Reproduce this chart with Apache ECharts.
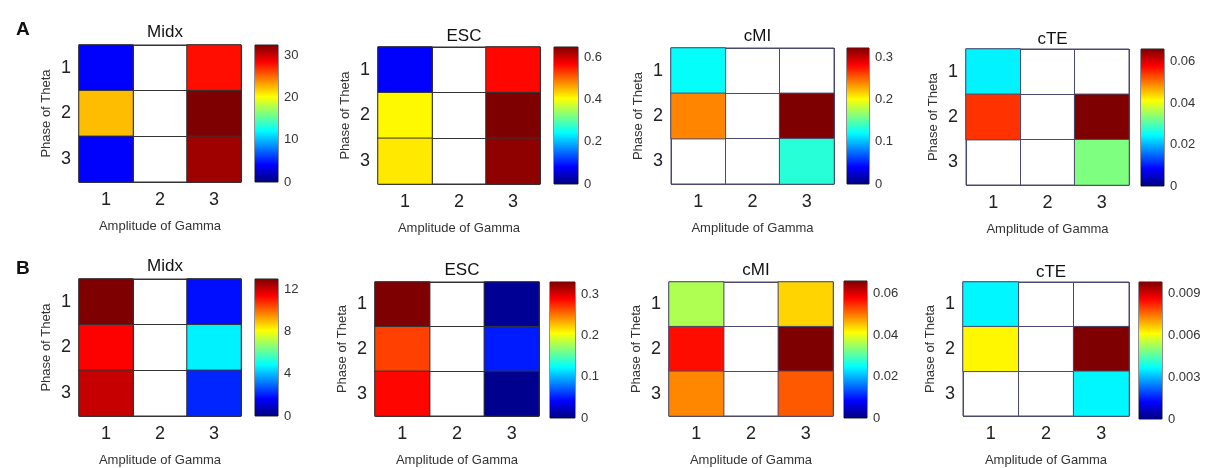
<!DOCTYPE html>
<html><head><meta charset="utf-8">
<script src="https://cdn.jsdelivr.net/npm/echarts@6/dist/echarts.min.js"></script>
<style>html,body{margin:0;padding:0;background:#fff}#c{width:1216px;height:468px}</style>
</head><body><div id="c"></div>
<script>
const ampCats = ['1','2','3'];
const phaseCats = ['1','2','3'];
const panelTitles = ['Midx','ESC','cMI','cTE','Midx','ESC','cMI','cTE'];
const rowLabels = ['A','B'];
// values[phase][amplitude]; null = empty (white) cell
const midxA = [[4.0,null,28.0],[22.4,null,32.5],[4.0,null,31.5]];
const escA  = [[0.08,null,0.565],[0.41,null,0.65],[0.42,null,0.64]];
const cmiA  = [[0.122,null,null],[0.24,null,0.322],[null,null,0.133]];
const cteA  = [[0.024,null,null],[0.0545,null,0.066],[null,null,0.033]];
const midxB = [[13.0,null,1.8],[11.4,null,4.7],[12.1,null,2.1]];
const escB  = [[0.33,null,0.007],[0.268,null,0.05],[0.287,null,0.005]];
const cmiB  = [[0.036,null,0.044],[0.057,null,0.066],[0.049,null,0.052]];
const cteB  = [[0.0036,null,null],[0.0062,null,0.0098],[null,null,0.0036]];
const colorbarMax  = [32.5,0.65,0.322,0.066,13,0.33,0.066,0.0098];
const colorbarStep = [10,0.2,0.1,0.02,4,0.1,0.02,0.003];

const panels = [midxA, escA, cmiA, cteA, midxB, escB, cmiB, cteB];

// layout (pixels): heatmap grid, colorbar grid, title top, line color
const layout = [
  {g:[79,45,162,137],  cb:[255,45,23,137],  ty:19,  line:'#333'},
  {g:[378,47,162,137], cb:[554,47,24,137],  ty:23,  line:'#333'},
  {g:[671,48,163,136], cb:[847,48,22,136],  ty:23,  line:'#4a4a6e'},
  {g:[966,49,163,136], cb:[1141,49,23,137], ty:26,  line:'#4a4a6e'},
  {g:[79,279,162,137], cb:[255,279,23,137], ty:253, line:'#333'},
  {g:[375,282,164,136],cb:[550,282,25,136], ty:257, line:'#333'},
  {g:[669,282,164,136],cb:[844,281,23,137], ty:257, line:'#4a4a6e'},
  {g:[963,282,166,137],cb:[1139,282,23,137],ty:259, line:'#4a4a6e'}
];

const jet = ['#00007F','#0000FF','#007FFF','#00FFFF','#7FFF7F','#FFFF00','#FF7F00','#FF0000','#7F0000'];
const FONT = 'Liberation Sans, Arial, sans-serif';

const grid = [], xAxis = [], yAxis = [], series = [], visualMap = [], title = [];

panels.forEach((vals, i) => {
  const L = layout[i];
  grid.push({left:L.g[0], top:L.g[1], width:L.g[2], height:L.g[3], show:true,
    borderColor:L.line, borderWidth:1, backgroundColor:'#fff', containLabel:false});
  grid.push({left:L.cb[0], top:L.cb[1], width:L.cb[2], height:L.cb[3], show:true,
    borderColor:'#222', borderWidth:1, backgroundColor:'transparent', containLabel:false});
  const gh = 2*i, gc = 2*i+1;
  xAxis.push({type:'category', gridIndex:gh, data:ampCats, position:'bottom',
    axisLine:{show:false}, axisTick:{show:false},
    splitLine:{show:true, lineStyle:{color:L.line, width:1}},
    axisLabel:{fontSize:18, color:'#222', margin:9, fontFamily:FONT},
    name:'Amplitude of Gamma', nameLocation:'middle', nameGap:38,
    nameTextStyle:{fontSize:13, color:'#333', fontFamily:FONT}});
  yAxis.push({type:'category', gridIndex:gh, data:phaseCats, inverse:true,
    axisLine:{show:false}, axisTick:{show:false},
    splitLine:{show:true, lineStyle:{color:L.line, width:1}},
    axisLabel:{fontSize:18, color:'#222', margin:8, fontFamily:FONT},
    name:'Phase of Theta', nameLocation:'middle', nameGap:26, nameRotate:90,
    nameTextStyle:{fontSize:13, color:'#333', fontFamily:FONT}});
  xAxis.push({type:'category', gridIndex:gc, data:['cb'], show:false});
  yAxis.push({type:'value', gridIndex:gc, position:'right', min:0,
    max:colorbarMax[i], interval:colorbarStep[i],
    axisLine:{show:false}, axisTick:{show:false}, splitLine:{show:false},
    axisLabel:{fontSize:13, color:'#333', margin:6, showMaxLabel:false, fontFamily:FONT}});

  const data = [];
  vals.forEach((row, r) => row.forEach((v, c) => {
    if (v !== null) data.push([c, r, v]);
  }));
  series.push({type:'heatmap', xAxisIndex:gh, yAxisIndex:gh, data:data,
    itemStyle:{borderColor:L.line, borderWidth:1}, silent:true, emphasis:{disabled:true}});

  visualMap.push({type:'continuous', show:false, seriesIndex:i, dimension:2,
    min:0, max:colorbarMax[i], inRange:{color:jet}});

  title.push({text:panelTitles[i], left:L.g[0] + L.g[2]/2, top:L.ty, textAlign:'center',
    textStyle:{fontSize:17, fontWeight:'normal', color:'#111', fontFamily:FONT}});
});

panels.forEach((vals, i) => {
  series.push({type:'bar', xAxisIndex:2*i+1, yAxisIndex:2*i+1, data:[colorbarMax[i]],
    barWidth:'100%', silent:true,
    itemStyle:{color:{type:'linear', x:0, y:1, x2:0, y2:0,
      colorStops: jet.map((c, k) => ({offset:k/(jet.length-1), color:c}))}}});
});

title.push({text:rowLabels[0], left:11, top:15, textStyle:{fontSize:19, fontWeight:'bold', color:'#111', fontFamily:FONT}});
title.push({text:rowLabels[1], left:11, top:254, textStyle:{fontSize:19, fontWeight:'bold', color:'#111', fontFamily:FONT}});

const chart = echarts.init(document.getElementById('c'), null, {renderer:'canvas'});
chart.setOption({animation:false, backgroundColor:'#fff', title, grid, xAxis, yAxis, visualMap, series});
</script></body></html>
